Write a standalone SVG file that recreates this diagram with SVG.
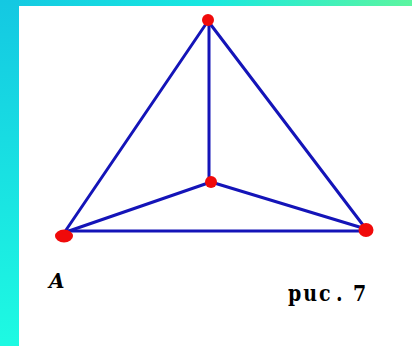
<svg xmlns="http://www.w3.org/2000/svg" width="412" height="346" viewBox="0 0 412 346">
<defs>
<linearGradient id="gTop" x1="0" y1="0" x2="1" y2="0">
<stop offset="0" stop-color="#14c8e2"/>
<stop offset="0.5" stop-color="#18e8e0"/>
<stop offset="1" stop-color="#5cf5a0"/>
</linearGradient>
<linearGradient id="gLeft" x1="0" y1="0" x2="0" y2="1">
<stop offset="0" stop-color="#14c8e2"/>
<stop offset="1" stop-color="#1efae2"/>
</linearGradient>
<style>
.edge{stroke:#1414b8;stroke-width:3;stroke-linecap:round;fill:none}
.pt{fill:#f00a0a}
.lbl{fill:#000;font-weight:bold;font-family:'DejaVu Serif','Liberation Serif',serif}
</style>
</defs>
<rect x="0" y="0" width="412" height="346" fill="#ffffff"/>
<rect x="0" y="0" width="412" height="6" fill="url(#gTop)"/>
<rect x="0" y="0" width="19" height="346" fill="url(#gLeft)"/>
<g id="connectors">
<line class="edge" x1="64" y1="233" x2="208" y2="21"/>
<line class="edge" x1="208" y1="21" x2="366" y2="229"/>
<line class="edge" x1="209" y1="21" x2="209" y2="181"/>
<line class="edge" x1="66" y1="232" x2="211" y2="182"/>
<line class="edge" x1="211" y1="182" x2="366" y2="229"/>
<line class="edge" x1="66" y1="231" x2="366" y2="231"/>
</g>
<g id="top"><circle class="pt" cx="208" cy="20" r="6"/></g>
<g id="center"><circle class="pt" cx="211" cy="182" r="6"/></g>
<g id="right"><ellipse class="pt" cx="366" cy="230" rx="7.5" ry="7"/></g>
<g id="A"><ellipse class="pt" cx="64" cy="236" rx="9" ry="6.5"/>
<text class="lbl" x="49" y="288" font-style="italic" font-size="20">A</text></g>
<g id="caption"><text class="lbl" transform="translate(0,301) scale(1,1.15)" y="0" font-size="19"><tspan x="288" letter-spacing="2">puc</tspan><tspan x="336">.</tspan><tspan x="353">7</tspan></text></g>
</svg>
